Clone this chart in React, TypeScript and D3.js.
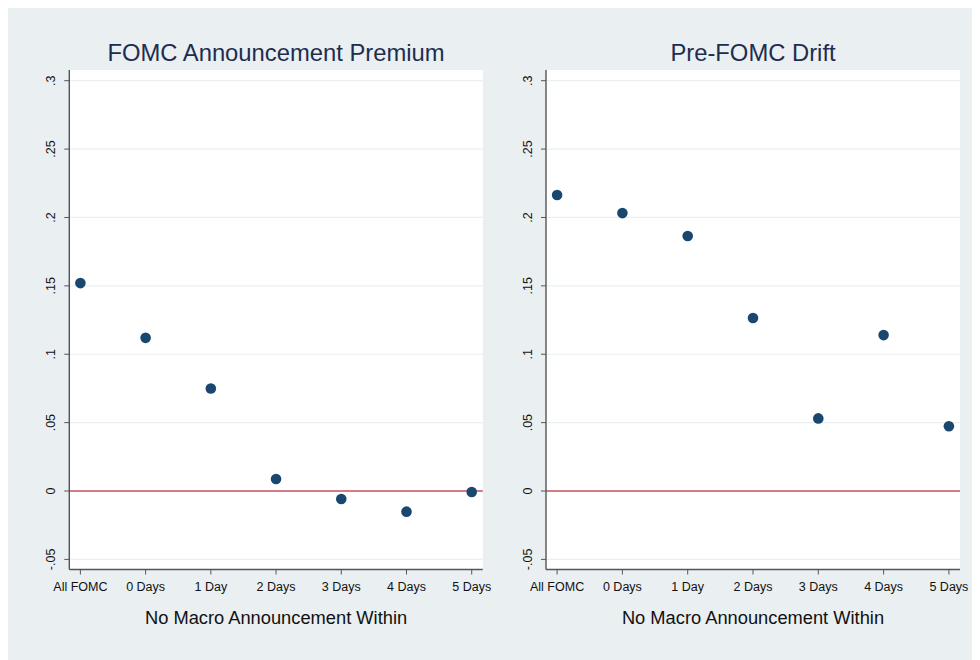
import React from "react";
import * as d3 from "d3";

// Horizon categories shared by both panels
const categories = ["All FOMC", "0 Days", "1 Day", "2 Days", "3 Days", "4 Days", "5 Days"];

// Mean returns by horizon
const premiumValues = [0.152, 0.112, 0.075, 0.0088, -0.0058, -0.0151, -0.0007];
const driftValues = [0.2164, 0.2032, 0.1864, 0.1265, 0.0531, 0.114, 0.0473];

const yTicks = [-0.05, 0, 0.05, 0.1, 0.15, 0.2, 0.25, 0.3];
const yTickLabels = ["-.05", "0", ".05", ".1", ".15", ".2", ".25", ".3"];

const panelTitles = ["FOMC Announcement Premium", "Pre-FOMC Drift"];
const xAxisTitle = "No Macro Announcement Within";

const W = 972;
const H = 652;
const FONT = "'Liberation Sans', Arial, Helvetica, sans-serif";

const BG = "#eaeff2";
const NAVY = "#1a476f";
const TITLE = "#1e2d4f";
const RED = "#c4515f";
const GRID = "#eaf0f2";
const AXIS = "#555";

type PanelProps = { left: number; right: number; title: string; values: number[] };

function Panel({ left, right, title, values }: PanelProps) {
  const top = 62;
  const bottom = 561.5;
  const x = d3.scaleLinear().domain([-0.17, 6.17]).range([left, right]);
  const y = d3.scaleLinear().domain([-0.05, 0.3]).range([551.4, 72.7]);
  const cx = (left + right) / 2;
  return (
    <g>
      <rect x={left} y={top} width={right - left} height={bottom - top} fill="#fff" />
      {yTicks.map((t) =>
        t !== 0 ? (
          <line key={t} x1={left} x2={right} y1={y(t)} y2={y(t)} stroke={GRID} strokeWidth={1.2} />
        ) : null
      )}
      <line x1={left} x2={right} y1={y(0)} y2={y(0)} stroke={RED} strokeWidth={1.6} />
      {/* y axis */}
      <line x1={left} x2={left} y1={top} y2={bottom} stroke={AXIS} strokeWidth={1.4} />
      {yTicks.map((t, i) => (
        <g key={"yt" + t}>
          <line x1={left - 5} x2={left} y1={y(t)} y2={y(t)} stroke={AXIS} strokeWidth={1} />
          <text
            transform={`translate(${left - 14},${y(t)}) rotate(-90)`}
            textAnchor="middle"
            fontSize={12.5}
            fontFamily={FONT}
            fill="#111"
          >
            {yTickLabels[i]}
          </text>
        </g>
      ))}
      {/* x axis */}
      <line x1={left} x2={right} y1={bottom} y2={bottom} stroke={AXIS} strokeWidth={1.4} />
      {categories.map((c, i) => (
        <g key={"xt" + c}>
          <line x1={x(i)} x2={x(i)} y1={bottom} y2={bottom + 5} stroke={AXIS} strokeWidth={1} />
          <text x={x(i)} y={bottom + 21.5} textAnchor="middle" fontSize={12.5} fontFamily={FONT} fill="#111">
            {c}
          </text>
        </g>
      ))}
      {values.map((v, i) => (
        <circle key={"p" + i} cx={x(i)} cy={y(v)} r={5.3} fill={NAVY} />
      ))}
      <text x={cx} y={53} textAnchor="middle" fontSize={23.8} fontFamily={FONT} fill={TITLE}>
        {title}
      </text>
      <text x={cx} y={616} textAnchor="middle" fontSize={18.3} fontFamily={FONT} fill="#111">
        {xAxisTitle}
      </text>
    </g>
  );
}

export default function App() {
  return (
    <svg width={W} height={H} style={{ display: "block" }}>
      <rect x={0} y={0} width={W} height={H} fill={BG} />
      <Panel left={61.3} right={474.8} title={panelTitles[0]} values={premiumValues} />
      <Panel left={538} right={952} title={panelTitles[1]} values={driftValues} />
    </svg>
  );
}
